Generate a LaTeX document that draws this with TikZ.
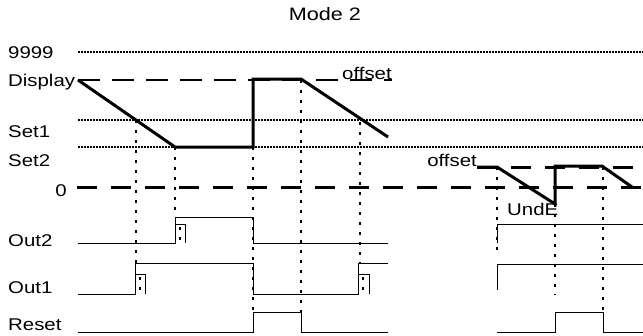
\documentclass[tikz,border=0pt]{standalone}
\usepackage{fontspec}
\setmainfont{Liberation Sans}[FakeStretch=1.2]

\begin{document}
\begin{tikzpicture}[
    x=1pt, y=-1pt,
    lbl/.style={font=\fontsize{17}{20}\selectfont, inner sep=0pt},
    level/.style={line width=1.1pt, dash pattern=on 2pt off 1pt},
    refline/.style={line width=2pt, dash pattern=on 22pt off 12pt},
    zeroline/.style={line width=3pt, dash pattern=on 20pt off 14pt},
    signal/.style={line width=3pt, line join=miter},
    pulse/.style={line width=1pt},
    tick/.style={line width=2.2pt, dash pattern=on 3pt off 7pt},
]
    \useasboundingbox (0,0) rectangle (643,335);

    % title and level names
    \node[lbl, anchor=base, font=\fontsize{18}{21}\selectfont] (title) at (325,20) {Mode 2};
    \node[lbl, anchor=base west] (l9999) at (8,58) {9999};
    \node[lbl, anchor=base west] (ldisp) at (8,86) {Display};
    \node[lbl, anchor=base west] (lset1) at (8,137) {Set1};
    \node[lbl, anchor=base west] (lset2) at (8,166) {Set2};
    \node[lbl, anchor=base east] (lzero) at (67,196) {0};
    \node[lbl, anchor=base west] (lout2) at (8,246) {Out2};
    \node[lbl, anchor=base west] (lout1) at (8,293) {Out1};
    \node[lbl, anchor=base west] (lreset) at (8,330) {Reset};

    % levels
    \draw[level] (78,52) -- (643,52);
    \draw[level] (78,120) -- (643,120);
    \draw[level] (78,147) -- (643,147);
    \draw[refline] (78,80) -- (392,80);
    \draw[zeroline] (77,187) -- (643,187);
    \draw[zeroline] (477,167) -- (643,167);

    \node[lbl, anchor=base west] (offL) at (342,79) {offset};
    \node[lbl, anchor=base east] (offR) at (477,166) {offset};
    \node[lbl, anchor=base west] (unde) at (507,215) {UndE};

    % display value
    \draw[signal] (78,80) -- (175,147) -- (253,147) -- (253,79) -- (301,79) -- (388,137);
    \draw[signal] (477,167) -- (497,167) -- (555,204) -- (555,166) -- (602,166) -- (632,187);

    % time marks
    \draw[tick] (136,120) -- (136,263);
    \draw[tick] (175,147) -- (175,217);
    \draw[tick] (253,147) -- (253,312);
    \draw[tick] (301,80) -- (301,312);
    \draw[tick] (360,122) -- (360,263);
    \draw[tick] (497,167) -- (497,255);
    \draw[tick] (555,204) -- (555,295);
    \draw[tick] (603,167) -- (603,312);

    % outputs
    \draw[pulse] (78,243) -- (175,243) -- (175,217) -- (253,217) -- (253,243) -- (388,243);
    \draw[pulse] (175,224) -| (185,243);
    \draw[tick, line width=1.5pt] (180,227) -- (180,243);
    \draw[pulse] (78,294) -- (135,294) -- (135,263) -- (253,263) -- (253,294)
        -- (358,294) -- (358,263) -- (388,263);
    \draw[pulse] (135,274) -| (145,294);
    \draw[tick, line width=1.5pt] (140,277) -- (140,294);
    \draw[pulse] (358,274) -| (369,294);
    \draw[tick, line width=1.5pt] (363,277) -- (363,294);
    \draw[pulse] (78,332) -- (253,332) -- (253,312) -- (301,312) -- (301,332) -- (388,332);

    \draw[pulse] (497,243) -- (497,224) -- (643,224);
    \draw[pulse] (497,290) -- (497,264) -- (643,264);
    \draw[pulse] (497,332) -- (555,332) -- (555,312) -- (603,312) -- (603,332) -- (643,332);

\end{tikzpicture}
\end{document}
